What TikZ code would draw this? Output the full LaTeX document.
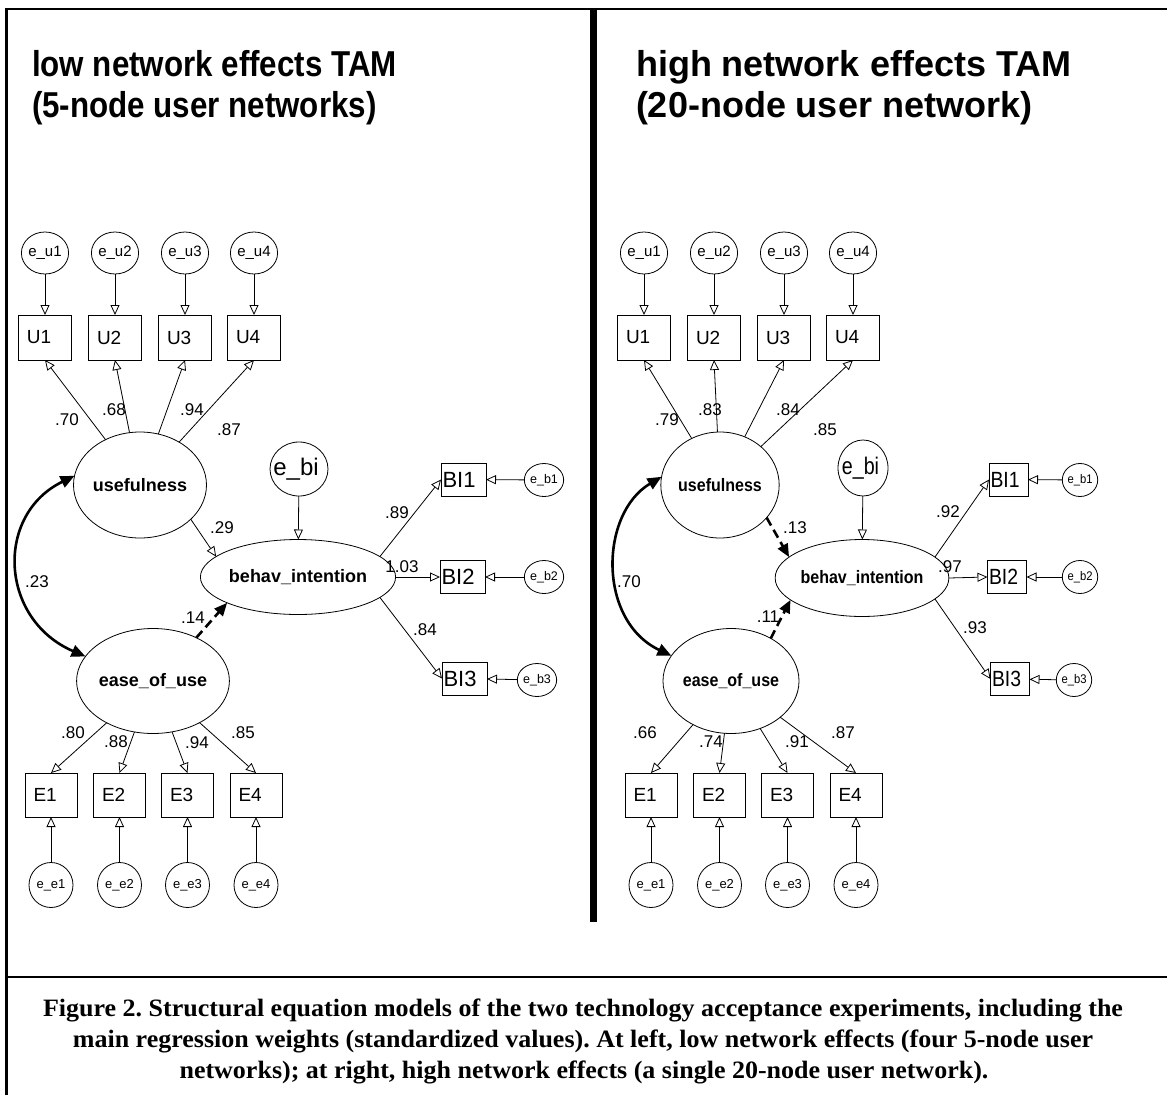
\documentclass[tikz,border=0pt]{standalone}
\usepackage{fontspec}
\setmainfont{Liberation Sans}
\newfontfamily\capfont{Liberation Serif}
\usetikzlibrary{arrows.meta,shapes.geometric}
\frenchspacing

% horizontal squeeze used for some labels
\newcommand\hsq[1]{\scalebox{0.89}[1]{#1}}
\newsavebox\caplinebox
\newcommand\capfirst{Figure 2. Structural equation models of the two technology acceptance experiments, including the}
\makeatletter
\AtBeginDocument{%
  \sbox\caplinebox{\capfont\bfseries\fontsize{25}{28}\selectfont \capfirst}%
  \pgfmathsetmacro\capsx{1080/\strip@pt\wd\caplinebox}%
}
\makeatother

\begin{document}
\begin{tikzpicture}[x=1pt,y=-1pt,
  every node/.style={inner sep=0pt, outer sep=0pt},
  lat/.style={draw, ellipse, line width=0.8pt, font=\bfseries\fontsize{18}{20}\selectfont},
  err/.style={draw, ellipse, line width=0.8pt, minimum width=44pt, minimum height=44pt, font=\fontsize{15}{17}\selectfont},
  errsmall/.style={draw, ellipse, line width=0.8pt, minimum height=33pt, font=\fontsize{12.5}{14}\selectfont},
  obs/.style={draw, rectangle, line width=0.8pt, minimum height=45pt, inner xsep=8.5pt,
              text width=#1, align=left, font=\fontsize{19}{21}\selectfont},
  obs/.default=36pt,
  bibox/.style={draw, rectangle, line width=0.8pt, minimum height=33pt, inner xsep=1.5pt,
                text width=#1, align=left, font=\fontsize{22}{24}\selectfont},
  coef/.style={font=\fontsize{17}{19}\selectfont},
  ttl/.style={anchor=base west, font=\bfseries\fontsize{36}{40}\selectfont},
  capline/.style={anchor=base, font=\capfont\bfseries\fontsize{25}{28}\selectfont},
  path/.style={line width=0.8pt, -{Triangle[open,length=10pt,width=9pt]}},
  strong/.style={line width=2.6pt, -{Triangle[length=13pt,width=11pt]}},
  weak/.style={strong, dash pattern=on 9pt off 5pt},
  cov/.style={line width=2.6pt, {Triangle[length=14pt,width=12pt]}-{Triangle[length=14pt,width=12pt]}},
]
\useasboundingbox (0,0) rectangle (1167,1095);

% ---------- frame ----------
\draw[line width=2.6pt] (6.5,1095) -- (6.5,9) -- (1167,9);
\draw[line width=2.6pt] (6.5,977) -- (1167,977);
\draw[line width=7pt] (593.5,8) -- (593.5,922);

% ---------- titles ----------
\node[ttl] (tl1) at (32,76) {\scalebox{0.87}[1]{low network effects TAM}};
\node[ttl] (tl2) at (32,117) {\scalebox{0.87}[1]{(5-node user networks)}};
\node[ttl] (tr1) at (636,76) {high network effects TAM};
\node[ttl] (tr2) at (636,117) {(20-node user network)};

% ================= left model =================
\node[lat, minimum width=116pt, minimum height=106pt] (useL) at (140,485) {usefulness};
\node[lat, minimum width=117pt, minimum height=105pt] (easeL) at (153,681) {ease\_of\_use};
\node[lat, minimum width=174pt, minimum height=75pt] (biL) at (298,577) {behav\_intention};
\node[err, minimum width=58pt, minimum height=54pt, font=\fontsize{24}{26}\selectfont] (ebiL) at (299,469) {\hspace*{-6pt}e\_bi};

\foreach \i/\x in {1/45,2/115,3/185,4/254}{
  \node[obs] (UL\i) at (\x,337.5) {U\i};
  \node[err, minimum height=42pt] (euL\i) at (\x,253) {e\_u\i};
  \draw[path] (euL\i) -- (UL\i);
  \draw[path] (useL) -- (UL\i.south);
}
\foreach \i/\x in {1/51,2/119.5,3/187.5,4/256}{
  \node[obs=35pt, minimum height=44pt] (EL\i) at (\x,795) {E\i};
  \node[err, minimum height=45pt, font=\fontsize{13}{15}\selectfont] (eeL\i) at (\x,885) {e\_e\i};
  \draw[path] (eeL\i) -- (EL\i);
  \draw[path] (easeL) -- (EL\i.north);
}
\foreach \i/\x/\y/\ex/\ey in {1/463.5/479.5/544/480, 2/462.5/577/544/577, 3/464.5/678.5/537/680}{
  \node[bibox=42pt] (BL\i) at (\x,\y) {BI\i};
  \node[errsmall, minimum width=32pt] (ebL\i) at (\ex,\ey) {e\_b\i};
  \draw[path] (ebL\i) -- (BL\i);
}
\draw[path] (biL.14) -- (BL1.west);
\draw[path] (biL.east) -- (BL2.west);
\draw[path] (biL.-14) -- (BL3.west);
\draw[path] (ebiL) -- (biL);
\draw[path] (useL.-34) -- (biL.166);
\draw[weak] (easeL.45) -- (biL.200);
\draw[cov] (useL.172) .. controls +(-80,39) and +(-86,-37) .. (easeL.160);

\node[coef] (lc1) at (67,420) {.70};
\node[coef] (lc2) at (114,410) {.68};
\node[coef] (lc3) at (192,410) {.94};
\node[coef] (lc4) at (229,430) {.87};
\node[coef] (lc5) at (222,528) {.29};
\node[coef] (lc6) at (193,618) {.14};
\node[coef] (lc7) at (37,582) {.23};
\node[coef] (lc8) at (397,513) {.89};
\node[coef] (lc9) at (402,567) {1.03};
\node[coef] (lc10) at (425,630) {.84};
\node[coef] (lc11) at (73,733) {.80};
\node[coef] (lc12) at (116,742) {.88};
\node[coef] (lc13) at (197,743) {.94};
\node[coef] (lc14) at (243,733) {.85};

% ================= right model =================
\node[lat, minimum width=106pt, minimum height=106pt] (useR) at (720,485) {\hsq{usefulness}};
\node[lat, minimum width=104pt, minimum height=105pt] (easeR) at (731,681) {\hsq{ease\_of\_use}};
\node[lat, minimum width=154pt, minimum height=77pt] (biR) at (862,578) {\hsq{behav\_intention}};
\node[err, minimum width=50pt, minimum height=56pt, font=\fontsize{24}{26}\selectfont] (ebiR) at (863,468) {\hspace*{-5pt}\scalebox{0.82}[1]{e\_bi}};

\foreach \i/\x in {1/644,2/714,3/784,4/853}{
  \node[obs] (UR\i) at (\x,337.5) {U\i};
  \node[err, minimum height=42pt] (euR\i) at (\x,253) {e\_u\i};
  \draw[path] (euR\i) -- (UR\i);
  \draw[path] (useR) -- (UR\i.south);
}
\foreach \i/\x in {1/651,2/719.5,3/787.5,4/856}{
  \node[obs=35pt, minimum height=44pt] (ER\i) at (\x,795) {E\i};
  \node[err, minimum height=45pt, font=\fontsize{13}{15}\selectfont] (eeR\i) at (\x,885) {e\_e\i};
  \draw[path] (eeR\i) -- (ER\i);
  \draw[path] (easeR) -- (ER\i.north);
}
\foreach \i/\x/\y/\ex/\ey in {1/1008.5/479.5/1080/480, 2/1007/577/1080/577, 3/1010/679/1074/680}{
  \node[bibox=36pt] (BR\i) at (\x,\y) {\scalebox{0.88}[1]{BI\i}};
  \node[errsmall, minimum width=28pt] (ebR\i) at (\ex,\ey) {\scalebox{0.9}[1]{e\_b\i}};
  \draw[path] (ebR\i) -- (BR\i);
}
\draw[path] (biR.16) -- (BR1.west);
\draw[path] (biR.east) -- (BR2.west);
\draw[path] (biR.-16) -- (BR3.west);
\draw[path] (ebiR) -- (biR);
\draw[weak] (useR.-35) -- (biR.164);
\draw[weak] (easeR.47) -- (biR.197);
\draw[cov] (useR.172) .. controls +(-62,37) and +(-74,-35) .. (easeR.157);

\node[coef] (rc1) at (667,420) {.79};
\node[coef] (rc2) at (710,410) {.83};
\node[coef] (rc3) at (788,410) {.84};
\node[coef] (rc4) at (825,430) {.85};
\node[coef] (rc5) at (795,528) {.13};
\node[coef] (rc6) at (768,617) {.11};
\node[coef] (rc7) at (629,582) {.70};
\node[coef] (rc8) at (948,512) {.92};
\node[coef] (rc9) at (950,567) {.97};
\node[coef] (rc10) at (975,628) {.93};
\node[coef] (rc11) at (645,733) {.66};
\node[coef] (rc12) at (711,742) {.74};
\node[coef] (rc13) at (797,742) {.91};
\node[coef] (rc14) at (843,733) {.87};

% ---------- caption ----------
\node[capline] (cap1) at (583,1016) {\scalebox{\capsx}[1]{\capfirst}};
\node[capline] (cap2) at (583,1047) {\scalebox{\capsx}[1]{main regression weights (standardized values). At left, low network effects (four 5-node user}};
\node[capline] (cap3) at (584,1078) {\scalebox{\capsx}[1]{networks); at right, high network effects (a single 20-node user network).}};
\end{tikzpicture}
\end{document}
